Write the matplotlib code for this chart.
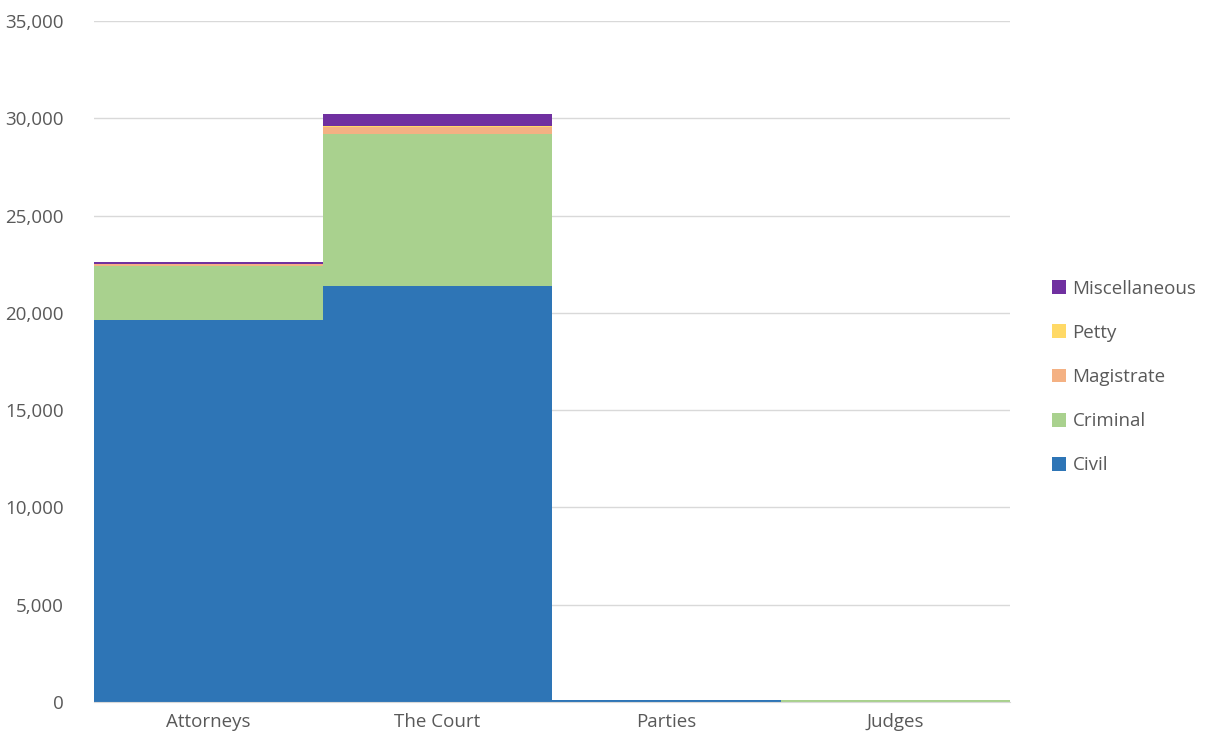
import matplotlib
matplotlib.use("Agg")
import matplotlib.pyplot as plt
import numpy as np
from matplotlib.ticker import FuncFormatter, MultipleLocator
from matplotlib.patches import Patch

categories = ["Attorneys", "The Court", "Parties", "Judges"]
civil = [19650, 21380, 100, 0]
criminal = [2780, 7810, 0, 100]
magistrate = [70, 340, 0, 0]
petty = [10, 70, 0, 0]
miscellaneous = [80, 615, 0, 0]

series = [("Civil", civil, "#2E75B6"),
          ("Criminal", criminal, "#A9D18E"),
          ("Magistrate", magistrate, "#F4B183"),
          ("Petty", petty, "#FFD966"),
          ("Miscellaneous", miscellaneous, "#7030A0")]

plt.rcParams['font.family'] = ['Open Sans', 'DejaVu Sans']
fig = plt.figure(figsize=(12.15, 7.46), dpi=100)
ax = fig.add_axes([94/1215, 1-702/746, (1010-94)/1215, (702-21)/746])

x = np.arange(len(categories))
bottom = np.zeros(len(categories))
handles = []
for name, vals, col in series:
    v = np.array(vals, dtype=float)
    ax.bar(x, v, width=1.0, bottom=bottom, color=col, edgecolor='none', zorder=3)
    bottom += v
    handles.append(Patch(facecolor=col, edgecolor='none', label=name))

ax.set_xlim(-0.5, len(categories) - 0.5)
ax.set_ylim(0, 35000)
ax.yaxis.set_major_locator(MultipleLocator(5000))
ax.yaxis.set_major_formatter(FuncFormatter(lambda v, p: f"{int(v):,}"))
ax.set_xticks(x)
ax.set_xticklabels(categories)
ax.grid(axis='y', color='#D9D9D9', linewidth=1, zorder=0)
for s in ['top', 'right', 'left']:
    ax.spines[s].set_visible(False)
ax.spines['bottom'].set_color('#D9D9D9')
ax.spines['bottom'].set_zorder(4)
ax.tick_params(axis='both', length=0, colors='#595959', labelsize=13.5)
ax.tick_params(axis='y', pad=22)
ax.tick_params(axis='x', pad=8)

leg = fig.legend(handles=handles[::-1], loc='center left',
                 bbox_to_anchor=(1035/1215, 1-377/746), frameon=False,
                 fontsize=13.5, labelcolor='#595959', handlelength=0.75,
                 handleheight=0.75, handletextpad=0.35, labelspacing=1.4)

fig.savefig("out.png", dpi=100)
